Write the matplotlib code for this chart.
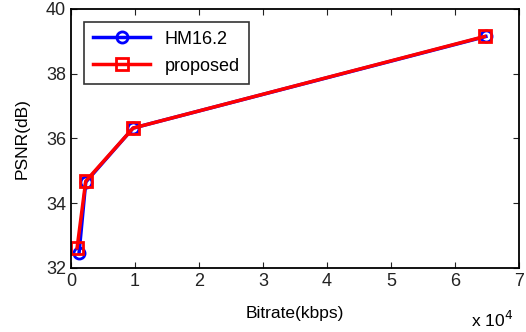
import matplotlib
matplotlib.use("Agg")
import matplotlib.pyplot as plt
from matplotlib.ticker import FuncFormatter

plt.rcParams["font.family"] = ["Liberation Sans", "DejaVu Sans"]

# Bitrate (kbps) and PSNR (dB)
hm_bitrate = [1250, 2300, 9700, 64800]
hm_psnr = [32.45, 34.65, 36.32, 39.15]
prop_bitrate = [950, 2300, 9700, 64600]
prop_psnr = [32.62, 34.68, 36.32, 39.15]

fig = plt.figure(figsize=(5.26, 3.32), dpi=100)
ax = fig.add_axes([0.135, 0.193, 0.852, 0.78])

ax.plot(hm_bitrate, hm_psnr, color="blue", lw=2.5, marker="o", ms=8,
        mfc="none", mew=2, label="HM16.2")
ax.plot(prop_bitrate, prop_psnr, color="red", lw=2.5, marker="s", ms=9,
        mfc="none", mew=2, label="proposed")

ax.set_xlim(0, 70000)
ax.set_ylim(32, 40)
ax.set_xticks(range(0, 70001, 10000))
ax.set_yticks(range(32, 41, 2))
ax.xaxis.set_major_formatter(FuncFormatter(lambda v, p: f"{v / 1e4:g}"))
ax.tick_params(direction="in", top=True, right=True, length=4, labelsize=13,
               colors="#222222")
for s in ax.spines.values():
    s.set_linewidth(1.3)

ax.set_xlabel("Bitrate(kbps)", fontsize=12.5, labelpad=12)
ax.set_ylabel("PSNR(dB)", fontsize=12.5, labelpad=12)
fig.text(0.895, 0.015, "x 10$^4$", fontsize=12.5)

leg = ax.legend(loc="upper left", fontsize=13, fancybox=False, edgecolor="black",
                borderaxespad=0.7, handlelength=3.2, labelspacing=0.55,
                borderpad=0.5)
leg.get_frame().set_linewidth(1.2)

fig.savefig("out.png", dpi=100)
